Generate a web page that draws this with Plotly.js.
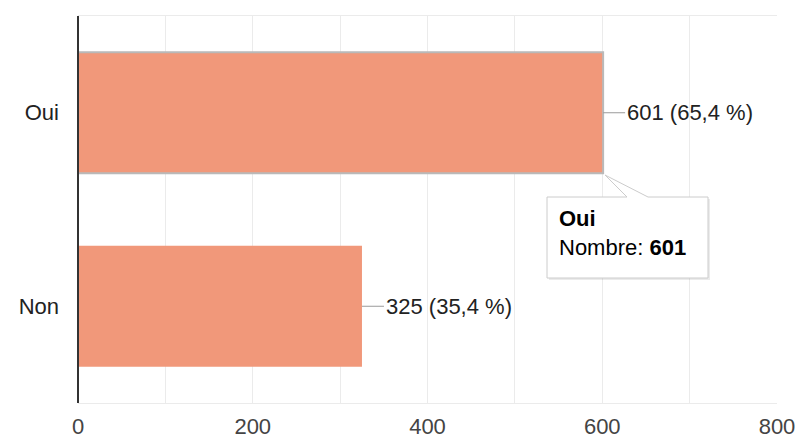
<!DOCTYPE html>
<html>
<head>
<meta charset="utf-8">
<script src="https://cdn.plot.ly/plotly-3.0.1.min.js"></script>
<style>html,body{margin:0;padding:0;background:#fff;}#chart{width:800px;height:439px;}</style>
</head>
<body>
<div id="chart"></div>
<script>
const categories = ['Oui', 'Non'];
const values = [601, 325];
const percents = ['65,4', '35,4'];
const tickValues = [0, 200, 400, 600, 800];
const tooltipLabel = 'Nombre';

const W = 800, H = 439;
const M = {l: 78, r: 23, t: 16, b: 36};
const PW = W - M.l - M.r, PH = H - M.t - M.b;
const PX = p => (p - M.l) / PW;
const PY = p => (H - M.b - p) / PH;

const barColor = '#f1987a';
const font = 'Arial, "Liberation Sans", sans-serif';
const FS = 22;

const trace = {
  type: 'bar',
  orientation: 'h',
  x: values,
  y: categories,
  marker: {
    color: barColor,
    line: {color: ['#b9b9b9', barColor], width: [2, 0]}
  },
  hoverinfo: 'skip'
};

const annotations = categories.map((c, i) => ({
  x: values[i], y: c, xref: 'x', yref: 'y',
  text: values[i] + ' (' + percents[i] + ' %)',
  showarrow: true, arrowhead: 0, arrowwidth: 1, arrowcolor: '#9a9a9a',
  ax: 22, ay: 0, xanchor: 'left', yanchor: 'middle',
  font: {family: font, size: FS, color: '#222'}
}));

annotations.push({
  xref: 'paper', yref: 'paper', x: PX(557), y: PY(204),
  xanchor: 'left', yanchor: 'top', align: 'left', showarrow: false,
  text: '<b>' + categories[0] + '</b><br>' + tooltipLabel + ': <b>' + values[0] + '</b>',
  font: {family: font, size: FS, color: '#000'}
});

function pathFrom(pts) {
  return 'M' + pts.map(p => PX(p[0]) + ',' + PY(p[1])).join(' L') + ' Z';
}
const tip = [[547,197],[627,197],[605,175],[648,197],[708,197],[708,278],[547,278]];
const shadow = tip.map(p => [p[0] + 2, p[1] + 2]);

const shapes = [
  {type: 'path', xref: 'paper', yref: 'paper', path: pathFrom(shadow),
   fillcolor: 'rgba(0,0,0,0.08)', line: {width: 0}},
  {type: 'path', xref: 'paper', yref: 'paper', path: pathFrom(tip),
   fillcolor: '#fff', line: {color: '#cccccc', width: 1}},
  {type: 'line', xref: 'paper', yref: 'paper', x0: 0, x1: 0, y0: 0, y1: 1,
   line: {color: '#333', width: 2}}
];

const layout = {
  width: W, height: H,
  margin: M,
  paper_bgcolor: '#fff', plot_bgcolor: '#fff',
  showlegend: false,
  bargap: 0.375,
  font: {family: font, size: FS, color: '#444'},
  xaxis: {
    range: [0, 800], tickvals: tickValues, ticktext: tickValues.map(String),
    showgrid: true, gridcolor: '#ebebeb', gridwidth: 1,
    minor: {dtick: 100, showgrid: true, gridcolor: '#ebebeb'},
    zeroline: false, showline: true, linecolor: '#ebebeb', mirror: true,
    ticks: '', ticklabelstandoff: 4,
    tickfont: {family: font, size: FS, color: '#444'}
  },
  yaxis: {
    type: 'category', autorange: 'reversed',
    showgrid: false, zeroline: false, showline: false, ticks: '',
    ticklabelstandoff: 18,
    tickfont: {family: font, size: FS, color: '#222'}
  },
  annotations: annotations,
  shapes: shapes
};

Plotly.newPlot('chart', [trace], layout, {displayModeBar: false, staticPlot: true});
</script>
</body>
</html>
